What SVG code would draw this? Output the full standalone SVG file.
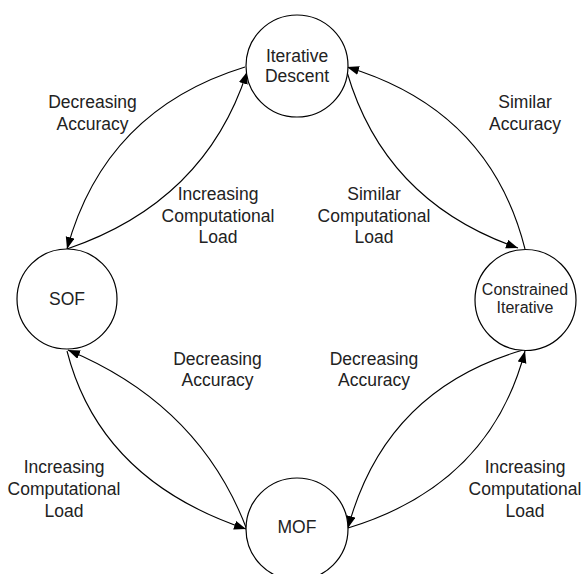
<svg xmlns="http://www.w3.org/2000/svg" width="582" height="574" viewBox="0 0 582 574">
<defs>
<marker id="ah" markerUnits="userSpaceOnUse" markerWidth="13" markerHeight="10" refX="12" refY="4.5" orient="auto">
<path d="M0,0 L12,4.5 L0,9 z" fill="#000"/>
</marker>
<style>
.node circle{fill:#fff;stroke:#000;stroke-width:1.2}
.lbl{font-family:"Liberation Sans",Arial,sans-serif;font-size:17.5px;fill:#222;text-anchor:middle}
.small{font-size:16px}
#connectors path{fill:none;stroke:#000;stroke-width:1.1;marker-end:url(#ah)}
</style>
</defs>
<rect width="582" height="574" fill="#fff"/>
<g id="connectors">
<path d="M245,67 Q105,110 67,249"/>
<path d="M67,249 Q205,202 247,72"/>
<path d="M525,249 Q490,110 347,67"/>
<path d="M347,72 Q385,202 518,248"/>
<path d="M247,530 Q200,405 68,350"/>
<path d="M67,351 Q100,480 246,529"/>
<path d="M348,528 Q490,485 525,351"/>
<path d="M523,350 Q385,390 348,528"/>
</g>
<g id="iterative-descent" class="node">
<circle cx="297" cy="66" r="51"/>
<text class="lbl" x="297" y="62">Iterative</text>
<text class="lbl" x="297" y="82">Descent</text>
</g>
<g id="sof" class="node">
<circle cx="67" cy="299" r="50"/>
<text class="lbl" x="67" y="305">SOF</text>
</g>
<g id="constrained-iterative" class="node">
<circle cx="525.5" cy="300" r="50.5"/>
<text class="lbl small" x="525" y="295">Constrained</text>
<text class="lbl small" x="525" y="313">Iterative</text>
</g>
<g id="mof" class="node">
<circle cx="297" cy="529" r="51"/>
<text class="lbl" x="297" y="533">MOF</text>
</g>
<g id="labels">
<text class="lbl" x="92.5" y="108">Decreasing</text>
<text class="lbl" x="92.5" y="130">Accuracy</text>
<text class="lbl" x="218" y="200">Increasing</text>
<text class="lbl" x="218" y="222">Computational</text>
<text class="lbl" x="218" y="243">Load</text>
<text class="lbl" x="525" y="108">Similar</text>
<text class="lbl" x="525" y="130">Accuracy</text>
<text class="lbl" x="374" y="200">Similar</text>
<text class="lbl" x="374" y="222">Computational</text>
<text class="lbl" x="374" y="243">Load</text>
<text class="lbl" x="217.5" y="365">Decreasing</text>
<text class="lbl" x="217.5" y="386">Accuracy</text>
<text class="lbl" x="374" y="365">Decreasing</text>
<text class="lbl" x="374" y="386">Accuracy</text>
<text class="lbl" x="64" y="473">Increasing</text>
<text class="lbl" x="64" y="495">Computational</text>
<text class="lbl" x="64" y="517">Load</text>
<text class="lbl" x="525" y="473">Increasing</text>
<text class="lbl" x="525" y="495">Computational</text>
<text class="lbl" x="525" y="517">Load</text>
</g>
</svg>
